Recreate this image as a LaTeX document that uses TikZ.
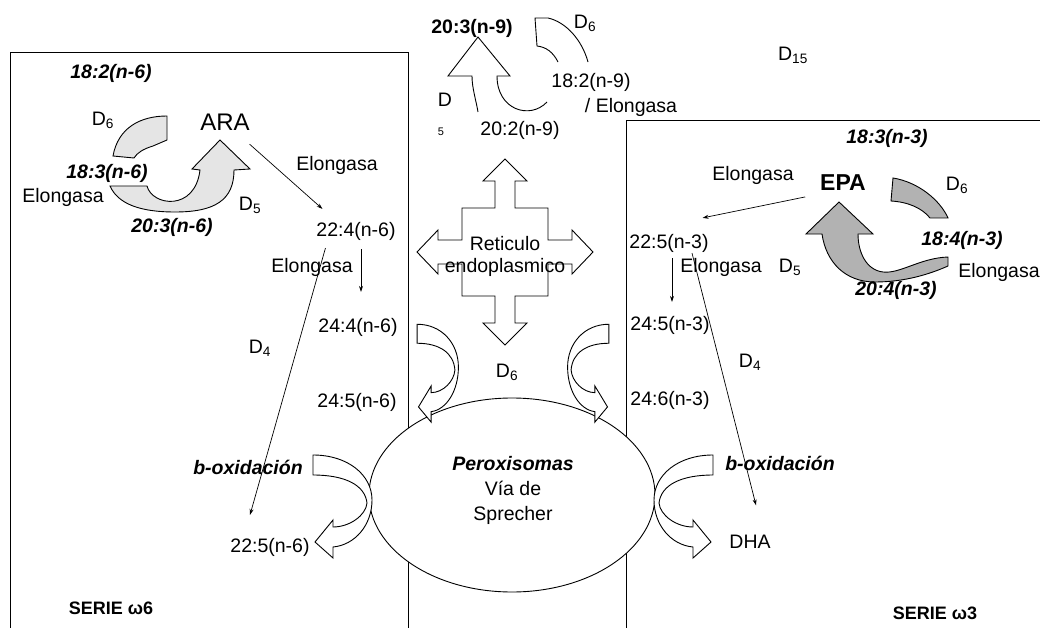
\documentclass[tikz,border=0pt]{standalone}
\usepackage{fontspec}
\setmainfont{Liberation Sans}
\usetikzlibrary{arrows.meta,positioning,shapes.geometric}

\tikzset{
  bentarrow/.pic={
    \draw[hollow] (-57,-45) .. controls (-22,-45) and (2,-25) .. (2,0)
      .. controls (2,25) and (-15,45) .. (-37,47) -- (-37,58) -- (-55,42) -- (-37,20) -- (-37,27)
      .. controls (-20,27) and (-4,15) .. (-3,3) .. controls (-5,-15) and (-25,-25) .. (-57,-25) -- cycle;
  }
}

\begin{document}
\begin{tikzpicture}[x=1pt,y=-1pt,
  every node/.style={inner sep=0pt,outer sep=0pt},
  lbl/.style={font=\fontsize{19.5}{22}\selectfont},
  acid/.style={font=\fontsize{19.5}{22}\selectfont\bfseries\itshape},
  big/.style={font=\fontsize{24}{26}\selectfont},
  serie/.style={font=\fontsize{18}{20}\selectfont\bfseries},
  frame/.style={line width=.8pt},
  flow/.style={-{Stealth[length=6pt,width=4pt]},line width=.7pt},
  hollow/.style={draw,line width=.9pt,fill=white},
  lightband/.style={draw,line width=.9pt,fill=gray!20},
  darkband/.style={draw,line width=.9pt,fill=gray!60}
]
\useasboundingbox (0,0) rectangle (1040,628);

% frames of the two series
\draw[frame] (10,628) -- (10,52) -- (408,52) -- (408,628);
\draw[frame] (626,628) -- (626,120) -- (1040,120);

% reticulo endoplasmico
\draw[hollow] (505,159) -- (527,181) -- (515,181) -- (515,208) -- (548,208) -- (548,240) -- (572,240) -- (572,230)
  -- (593,252) -- (572,274) -- (572,264) -- (548,264) -- (548,296) -- (515,296) -- (515,323) -- (527,323)
  -- (505,345) -- (483,323) -- (495,323) -- (495,296) -- (462,296) -- (462,264) -- (438,264) -- (438,274)
  -- (417,252) -- (438,230) -- (438,240) -- (462,240) -- (462,208) -- (495,208) -- (495,181) -- (483,181) -- cycle;

% peroxisomas
\node[draw,fill=white,ellipse,line width=.9pt,minimum width=286pt,minimum height=194pt] (perox) at (512,495) {};
\pic[xscale=.7,yscale=.95] at (457,367) {bentarrow};
\pic[xscale=-.7,yscale=.95] at (569,367) {bentarrow};
\pic at (370,500) {bentarrow};
\pic[xscale=-1] at (656,500) {bentarrow};

% cycle n-9
\draw[line width=.9pt] (478,112) .. controls (476,100) and (472,88) .. (472,76) -- (448,76) -- (478,37) -- (510,76)
  -- (497,76) .. controls (497,110) and (530,120) .. (547,102);
\draw[line width=.9pt] (558,62) .. controls (553,52) and (546,47) .. (537,46) -- (535,18) -- (548,18)
  .. controls (566,22) and (582,40) .. (588,62);

% cycle n-6
\draw[lightband] (113,156) .. controls (118,128) and (140,116) .. (167,116) -- (167,140) -- (153,146)
  .. controls (143,149) and (137,153) .. (134,158) -- cycle;
\draw[lightband] (147,186) .. controls (152,206) and (195,212) .. (200,170) -- (192,169) -- (220,140) -- (250,169)
  -- (234,170) .. controls (234,200) and (215,212) .. (175,212) .. controls (140,212) and (118,204) .. (110,186) -- cycle;

% cycle n-3
\draw[darkband] (893,178) .. controls (918,182) and (940,200) .. (948,218) -- (930,218)
  .. controls (922,208) and (908,202) .. (891,201) -- cycle;
\draw[darkband] (948,257) .. controls (920,258) and (900,274) .. (883,272) .. controls (866,270) and (858,252) .. (858,234)
  -- (873,234) -- (839,202) -- (806,234) -- (822,234) .. controls (826,262) and (845,282) .. (875,282)
  .. controls (905,282) and (930,274) .. (948,266) -- cycle;

% serie w6
\node[acid] (c182L) at (111,73) {18:2(n-6)};
\node[big] (ara) at (225,122) {ARA};
\node[lbl] (d6L) at (103,120) {D\textsubscript{6}};
\node[lbl] (elara) at (337,165) {Elongasa};
\node[acid] (c183L) at (107,173) {18:3(n-6)};
\node[lbl] (elL) at (63,197) {Elongasa};
\node[lbl] (d5L) at (250,205) {D\textsubscript{5}};
\node[acid] (c203L) at (172,227) {20:3(n-6)};
\node[lbl] (n224) at (356,231) {22:4(n-6)};
\node[lbl] (el224) at (312,267) {Elongasa};
\node[lbl] (n244) at (358,327) {24:4(n-6)};
\node[lbl] (d4L) at (260,348) {D\textsubscript{4}};
\node[lbl] (n245L) at (357,402) {24:5(n-6)};
\node[acid] (boxL) at (248,467) {b-oxidación};
\node[lbl] (n225L) at (270,547) {22:5(n-6)};
\node[serie] (serie6) at (111,608) {SERIE ω6};

% serie w9 and centre
\node[lbl,font=\fontsize{19.5}{22}\selectfont\bfseries] (c203M) at (472,28) {20:3(n-9)};
\node[lbl] (d6M) at (585,23) {D\textsubscript{6}};
\node[lbl] (c182M) at (591,82) {18:2(n-9)};
\node[lbl] (elM) at (631,107) {/ Elongasa};
\node[lbl] (dM) at (445,100) {D};
\node[font=\fontsize{11}{12}\selectfont] (d5M) at (441,132) {5};
\node[lbl] (c202M) at (520,130) {20:2(n-9)};
\node[lbl] (d15) at (793,55) {D\textsubscript{15}};
\node[lbl,align=center] (ret) at (505,256) {Reticulo\\endoplasmico};
\node[lbl] (d6C) at (507,372) {D\textsubscript{6}};
\node[lbl,align=center,font=\fontsize{19.5}{25}\selectfont] (peroxtxt) at ([shift={(1,-5)}]perox.center)
  {\textbf{\textit{Peroxisomas}}\\Vía de\\Sprecher};

% serie w3
\node[acid] (c183R) at (887,138) {18:3(n-3)};
\node[lbl] (elepa) at (753,175) {Elongasa};
\node[big,font=\fontsize{23}{25}\selectfont\bfseries] (epa) at (843,183) {EPA};
\node[lbl] (d6R) at (957,185) {D\textsubscript{6}};
\node[acid] (c184R) at (962,240) {18:4(n-3)};
\node[lbl] (n225R) at (669,243) {22:5(n-3)};
\node[lbl] (d5R) at (790,267) {D\textsubscript{5}};
\node[lbl] (elR) at (999,272) {Elongasa};
\node[lbl] (el225) at (721,267) {Elongasa};
\node[acid] (c204R) at (896,290) {20:4(n-3)};
\node[lbl] (n245R) at (670,325) {24:5(n-3)};
\node[lbl] (d4R) at (750,362) {D\textsubscript{4}};
\node[lbl] (n246R) at (670,400) {24:6(n-3)};
\node[acid] (boxR) at (780,463) {b-oxidación};
\node[lbl] (dha) at (750,542) {DHA};
\node[serie] (serie3) at (935,613) {SERIE ω3};

% connectors
\draw[flow] ([shift={(0,14)}]ara.south east) -- ([shift={(6,-13)}]n224.north west);
\draw[flow] ([shift={(5,9)}]n224.south) -- ([shift={(3,-26)}]n244.north);
\draw[flow] ([shift={(9,8)}]n224.south west) -- ([shift={(-20,-23)}]n225L.north);
\draw[flow] ([shift={(-15,6)}]epa.south west) -- ([shift={(-6,-16)}]n225R.north east);
\draw[flow] ([shift={(3,6)}]n225R.south) -- ([shift={(2,-14)}]n245R.north);
\draw[flow] ([shift={(23,1)}]n225R.south) -- ([shift={(6,-30)}]dha.north);
\end{tikzpicture}
\end{document}
